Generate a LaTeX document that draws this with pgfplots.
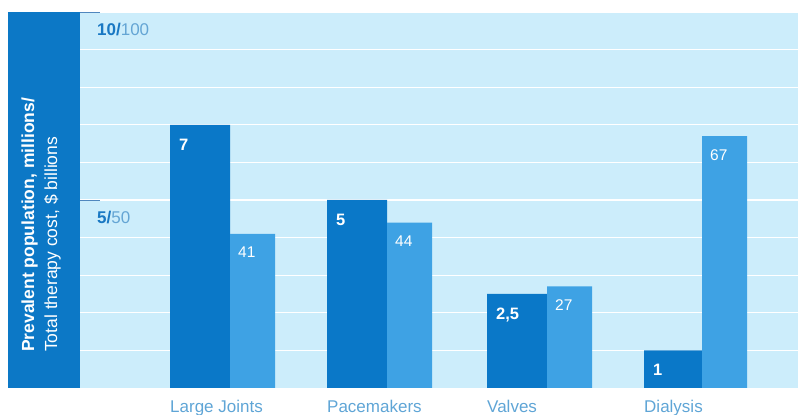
\documentclass[border=0pt]{standalone}
\usepackage{fontspec}
\setmainfont{Liberation Sans}
\usepackage{pgfplots}
\usepackage{pgfplotstable}
\pgfplotsset{compat=1.18}
\definecolor{bgcol}{RGB}{204,237,251}
\definecolor{darkbar}{RGB}{10,120,200}
\definecolor{lightbar}{RGB}{62,162,228}
\definecolor{sidecol}{RGB}{12,120,198}
\definecolor{labcol}{RGB}{95,165,214}
\definecolor{tickbold}{RGB}{25,120,195}
\definecolor{ticklight}{RGB}{100,165,212}
\definecolor{tickline}{RGB}{80,135,190}

\pgfplotstableread{
x y lab
200 7 7
357 5 5
517 2.5 2,5
674 1 1
}\popdata
\pgfplotstableread{
x y lab
252.5 41 41
409.5 44 44
569.5 27 27
724.5 67 67
}\costdata

\begin{document}
\begin{tikzpicture}
\path[use as bounding box] (0,0) rectangle (798pt,415pt);
\begin{axis}[
  at={(8pt,27pt)}, anchor=south west,
  scale only axis, width=790pt, height=376pt,
  xmin=8, xmax=798, ymin=0, ymax=10,
  axis background/.style={fill=bgcol},
  axis line style={draw=none},
  xtick={200,357,517,674},
  xticklabels={Large Joints,Pacemakers,Valves,Dialysis},
  xtick style={draw=none},
  xticklabel style={anchor=base west, inner sep=0pt, xshift=-30pt, yshift=-24pt, text=labcol, font=\fontsize{17}{17}\selectfont},
  ytick={5,10},
  yticklabels={{\textbf{\color{tickbold}5/}\color{ticklight}50},{\textbf{\color{tickbold}10/}\color{ticklight}100}},
  yticklabel style={anchor=base west, inner sep=0pt, xshift=89pt, yshift=-24pt, font=\fontsize{17}{17}\selectfont},
  minor ytick={1,2,3,4,6,7,8,9},
  ymajorgrids, yminorgrids,
  major grid style={draw=white, line width=1.1pt},
  minor grid style={draw=white, line width=1.1pt},
  ytick style={draw=tickline, line width=0.9pt},
  tick align=inside,
  major tick length=92pt,
  minor tick length=0pt,
  ytick pos=left, xtick pos=bottom,
  clip=false,
]
\fill[sidecol] (axis cs:8,0) rectangle (axis cs:80,10);
\addplot[ybar, bar width=60pt, bar shift=0pt, fill=darkbar, draw=none,
  nodes near coords, point meta=explicit symbolic,
  every node near coord/.append style={anchor=north west, inner sep=0pt, xshift=-21pt, yshift=-14pt, text=white, font=\bfseries\fontsize{16.5}{16.5}\selectfont}]
  table[x=x, y=y, meta=lab]{\popdata};
\end{axis}
\begin{axis}[
  at={(8pt,27pt)}, anchor=south west,
  scale only axis, width=790pt, height=376pt,
  xmin=8, xmax=798, ymin=0, ymax=100,
  hide axis, clip=false,
]
\addplot[ybar, bar width=45pt, bar shift=0pt, fill=lightbar, draw=none,
  nodes near coords, point meta=explicit symbolic,
  every node near coord/.append style={anchor=north west, inner sep=0pt, xshift=-14.5pt, yshift=-13pt, text=white, font=\fontsize{15.5}{15.5}\selectfont}]
  table[x=x, y=y, meta=lab]{\costdata};
\end{axis}
\node[rotate=90, anchor=base west, inner sep=0pt, text=white, font=\bfseries\fontsize{17.5}{17.5}\selectfont] at (34pt,63pt) {Prevalent population, millions/};
\node[rotate=90, anchor=base west, inner sep=0pt, text=white, font=\fontsize{17.5}{17.5}\selectfont] at (57pt,63pt) {Total therapy cost, \$ billions};
\end{tikzpicture}
\end{document}
